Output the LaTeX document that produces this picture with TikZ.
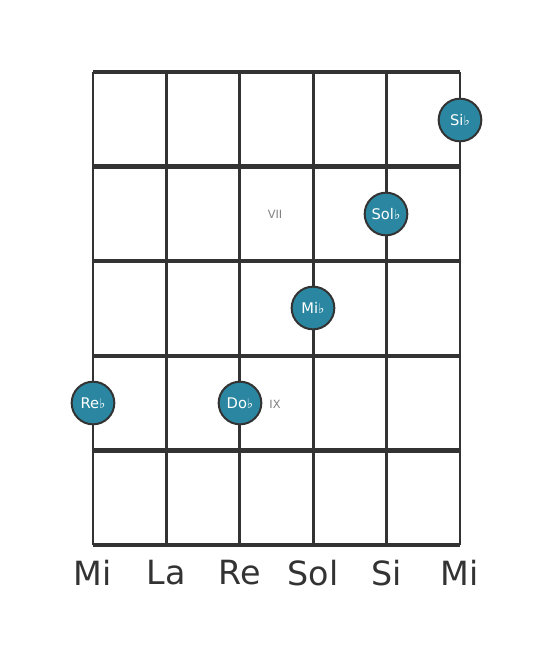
\documentclass[tikz,border=0pt]{standalone}
\usepackage{fontspec}
\setmainfont{DejaVu Sans}
\definecolor{dotblue}{HTML}{2B87A1}
\definecolor{gridgray}{HTML}{333333}
\newcommand{\flt}{{\fontsize{10pt}{10pt}\selectfont ♭}}
\tikzset{
    note/.style={circle, draw=gridgray, line width=1.5pt, fill=dotblue, minimum size=32pt, inner sep=0pt, text=white, font=\fontsize{11pt}{12pt}\selectfont},
    fretnum/.style={text=gray, font=\fontsize{8.5pt}{9pt}\selectfont},
    strname/.style={text=gridgray, font=\fontsize{25pt}{27pt}\selectfont}
}
\begin{document}
\begin{tikzpicture}[x=0.75pt, y=-0.75pt]
    \useasboundingbox (0,0) rectangle (553,656);
    % Strings (top and bottom ends)
    \foreach \i in {0,...,5} {
        \coordinate (s\i) at (93+\i*73.4, 72);
        \coordinate (e\i) at (93+\i*73.4, 545);
    }
    % Frets
    \foreach \j in {0,...,5} {
        \coordinate (l\j) at (93, 72+\j*94.6);
        \coordinate (r\j) at (460, 72+\j*94.6);
    }
    \foreach \i in {0,...,5} \draw[gridgray, line width=2.2pt] (s\i)--(e\i);
    \foreach \j in {0,...,5} \draw[gridgray, line width=3.2pt] (l\j)--(r\j);

    % Fret numbers
    \node[fretnum] (vii) at (275,214) {VII};
    \node[fretnum] (ix) at (275,404) {IX};

    % Notes
    \node[note] (sib) at (460,120) {Si\flt};
    \node[note] (solb) at (386,214) {Sol\flt};
    \node[note] (mib) at (313,308) {Mi\flt};
    \node[note] (reb) at (93,403) {Re\flt};
    \node[note] (dob) at (240,403) {Do\flt};

    % String names
    \foreach \i/\n in {0/Mi,1/La,2/Re,3/Sol,4/Si,5/Mi}
        \node[strname] (n\i) at (93+\i*73.4, 573) {\n};
\end{tikzpicture}
\end{document}
